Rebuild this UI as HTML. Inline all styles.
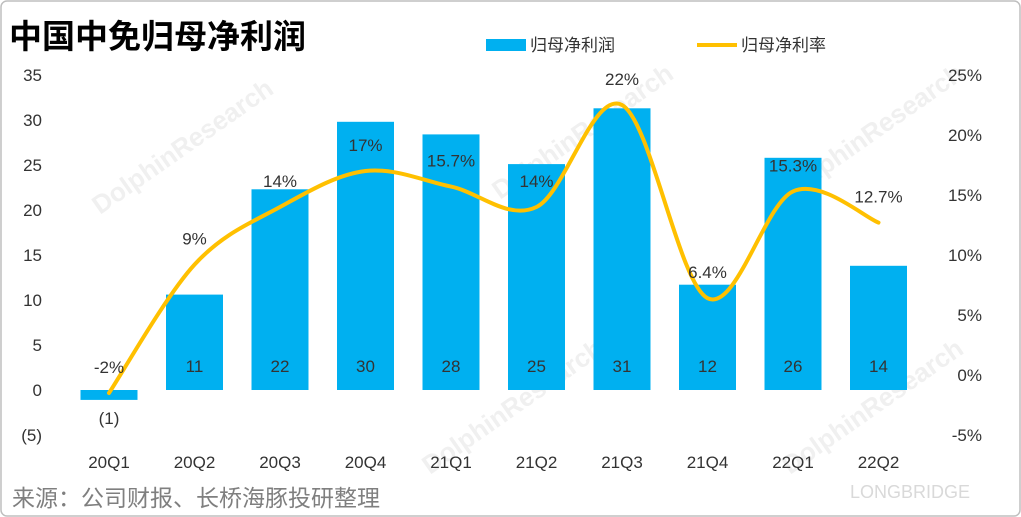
<!DOCTYPE html>
<html><head><meta charset="utf-8"><style>
html,body{margin:0;padding:0;background:#fff;}
svg{display:block;font-family:"Liberation Sans","Noto Sans CJK SC",sans-serif;}
</style></head><body>
<svg id="c" width="1021" height="517" viewBox="0 0 1021 517">
<rect x="1" y="1" width="1019" height="515" rx="6" fill="#fff" stroke="#bfbfbf" stroke-width="1.5"/>
<text x="9" y="48" font-size="33" font-weight="bold" fill="#000">中国中免归母净利润</text>
<g>
<rect x="486" y="39" width="40" height="12" fill="#00b0f0"/>
<text x="530" y="51" font-size="17" fill="#333">归母净利润</text>
<line x1="697" y1="45" x2="737" y2="45" stroke="#ffc000" stroke-width="4"/>
<text x="741" y="51" font-size="17" fill="#333">归母净利率</text>
</g>
<g id="wm" fill="#f0f0f0" font-size="26" font-weight="bold">
<text transform="translate(100,215) rotate(-35)">DolphinResearch</text>
<text transform="translate(500,200) rotate(-35)">DolphinResearch</text>
<text transform="translate(790,200) rotate(-35)">DolphinResearch</text>
<text transform="translate(430,475) rotate(-35)">DolphinResearch</text>
<text transform="translate(790,475) rotate(-35)">DolphinResearch</text>
</g>
<g id="plot"></g>
<text x="12" y="506" font-size="23" fill="#7f7f7f">来源：公司财报、长桥海豚投研整理</text>
<text x="850" y="498" font-size="18" fill="#d9d9d9">LONGBRIDGE</text>
</svg>
<script>
const categories=["20Q1","20Q2","20Q3","20Q4","21Q1","21Q2","21Q3","21Q4","22Q1","22Q2"];
const profit=[-1.1,10.6,22.3,29.8,28.4,25.1,31.3,11.7,25.8,13.8];
const profitLabels=["(1)","11","22","30","28","25","31","12","26","14"];
const margin=[-1.5,9.2,14,17,15.7,14,22.5,6.4,15.3,12.7];
const marginLabels=["-2%","9%","14%","17%","15.7%","14%","22%","6.4%","15.3%","12.7%"];
const leftTicks=[-5,0,5,10,15,20,25,30,35];
const rightTicks=[-5,0,5,10,15,20,25];

const NS="http://www.w3.org/2000/svg";
const g=document.getElementById('plot');
function el(t,a,txt){const e=document.createElementNS(NS,t);for(const k in a)e.setAttribute(k,a[k]);if(txt!==undefined)e.textContent=txt;g.appendChild(e);return e;}
const yL=v=>390-9*v;
const yR=v=>375-12*v;
const xC=i=>109+i*85.5;
const bw=57;

leftTicks.forEach(t=>{const e=el('text',{x:42,y:yL(t)+6,'font-size':17,fill:'#333','text-anchor':'end'},t<0?'('+(-t)+')':String(t));

});
rightTicks.forEach(t=>{const e=el('text',{x:982,y:yR(t)+6,'font-size':17,fill:'#333','text-anchor':'end'},t+'%');

});

categories.forEach((c,i)=>{
 const v=profit[i];const y0=yL(0),y1=yL(v);
 const r=el('rect',{x:xC(i)-bw/2,y:Math.min(y0,y1),width:bw,height:Math.abs(y1-y0),fill:'#00b0f0'});
 
 
 const ly=v<0?yL(v)+24:372;
 const t=el('text',{x:xC(i),y:ly,'font-size':17,fill:'#333','text-anchor':'middle'},profitLabels[i]);
 
 
 const xl=el('text',{x:xC(i),y:468,'font-size':17,fill:'#333','text-anchor':'middle'},c);
 
 
});

const pts=margin.map((m,i)=>[xC(i),yR(m)]);
let d='M'+pts[0][0]+','+pts[0][1];
for(let i=0;i<pts.length-1;i++){
 const p0=pts[Math.max(0,i-1)],p1=pts[i],p2=pts[i+1],p3=pts[Math.min(pts.length-1,i+2)];
 const k=1/6;
 d+=` C${p1[0]+(p2[0]-p0[0])*k},${p1[1]+(p2[1]-p0[1])*k} ${p2[0]-(p3[0]-p1[0])*k},${p2[1]-(p3[1]-p1[1])*k} ${p2[0]},${p2[1]}`;
}
const line=el('path',{d:d,fill:'none',stroke:'#ffc000','stroke-width':4,'stroke-linejoin':'round','stroke-linecap':'round'});


pts.forEach((p,i)=>{
 const t=el('text',{x:p[0],y:p[1]-20,'font-size':17,fill:'#333','text-anchor':'middle'},marginLabels[i]);
 
 
});
</script>
</body></html>
